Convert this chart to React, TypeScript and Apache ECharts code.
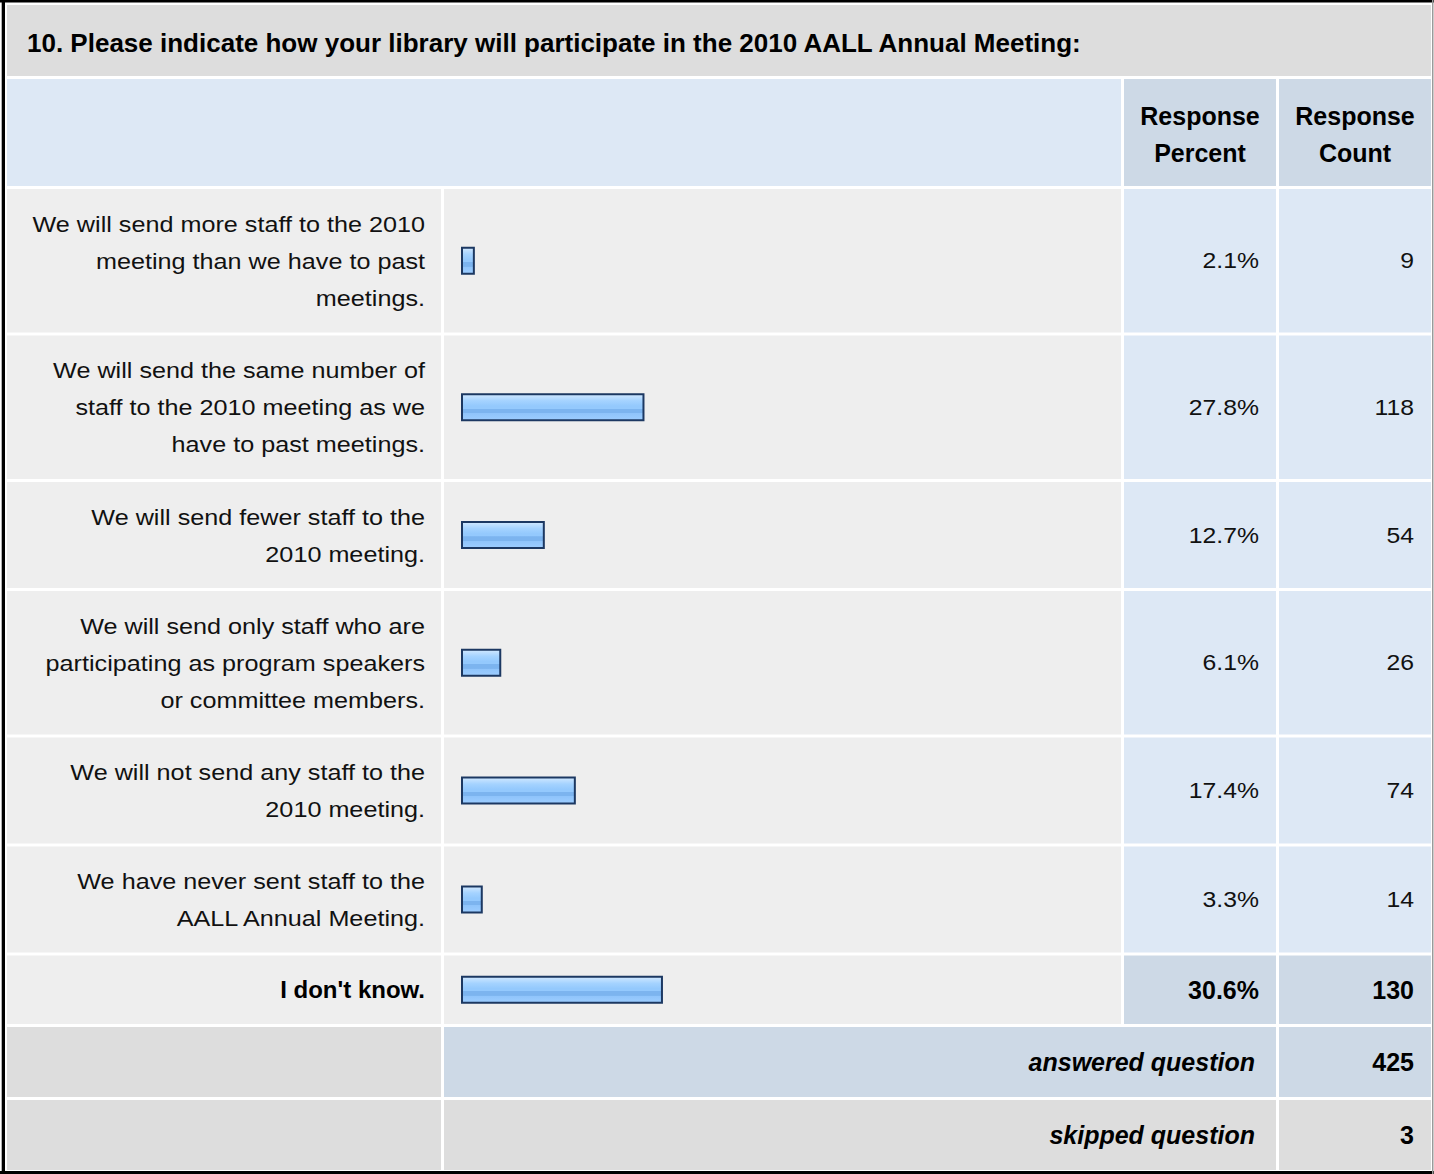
import React, { useEffect, useRef } from "react";
import * as echarts from "echarts";

const questionTitle =
  "10. Please indicate how your library will participate in the 2010 AALL Annual Meeting:";
const headerLabels = ["Response\nPercent", "Response\nCount"];
const categories = [
  "We will send more staff to the 2010\nmeeting than we have to past\nmeetings.",
  "We will send the same number of\nstaff to the 2010 meeting as we\nhave to past meetings.",
  "We will send fewer staff to the\n2010 meeting.",
  "We will send only staff who are\nparticipating as program speakers\nor committee members.",
  "We will not send any staff to the\n2010 meeting.",
  "We have never sent staff to the\nAALL Annual Meeting.",
  "I don't know.",
];
const responsePercent = [2.1, 27.8, 12.7, 6.1, 17.4, 3.3, 30.6];
const responseCount = [9, 118, 54, 26, 74, 14, 130];
const summaryLabels = ["answered question", "skipped question"];
const summaryCounts = [425, 3];

const W = 1434;
const H = 1174;
const FONT = '"Liberation Sans", Arial, Helvetica, sans-serif';
const REG_SIZE = 22.5;
const LABEL_SCALE = 1.12;
const NUM_SCALE = 1.1;
const BOLD_SIZE = 25;

export default function App() {
  const ref = useRef<HTMLDivElement>(null);

  useEffect(() => {
    document.body.style.margin = "0";
    const chart = echarts.init(ref.current!, null, {
      renderer: "svg",
      width: W,
      height: H,
    });

    const colL = [7, 441];
    const colB = [444, 1121];
    const colP = [1124, 1276];
    const colC = [1279, 1431];
    const gap = 3;

    const rows: { top: number; h: number }[] = [];
    let y = 189;
    categories.forEach((c) => {
      const n = c.split("\n").length;
      const h = 31 + 37.5 * n;
      rows.push({ top: y, h });
      y += h + gap;
    });
    const sumRows: { top: number; h: number }[] = [];
    summaryLabels.forEach(() => {
      sumRows.push({ top: y, h: 70 });
      y += 70 + gap;
    });

    const lastIdx = categories.length - 1;
    const g: any[] = [];
    const rect = (x0: number, x1: number, top: number, h: number, fill: string) =>
      g.push({
        type: "rect",
        silent: true,
        shape: { x: x0, y: top, width: x1 - x0, height: h },
        style: { fill },
      });
    const text = (
      t: string,
      x: number,
      yy: number,
      align: string,
      opts: { bold?: boolean; italic?: boolean; size?: number; scaleX?: number } = {}
    ) =>
      g.push({
        type: "text",
        silent: true,
        x,
        y: yy,
        scaleX: opts.scaleX ?? 1,
        style: {
          text: t,
          fill: opts.bold ? "#000000" : "#111111",
          fontFamily: FONT,
          fontSize: opts.size ?? (opts.bold ? BOLD_SIZE : REG_SIZE),
          fontWeight: opts.bold ? "bold" : "normal",
          fontStyle: opts.italic ? "italic" : "normal",
          align,
          verticalAlign: "middle",
          lineHeight: 37,
        },
      });

    // background and frame
    rect(0, W, 0, H, "#ffffff");
    rect(0, W, 0, 2.5, "#000000");
    rect(1.7, 5, 0, H, "#000000");
    rect(0, W, 1171, 3, "#000000");
    rect(1432, 1433.5, 0, H, "#9a9a9a");

    // title
    rect(colL[0], colC[1], 5, 71, "#dddddd");
    text(questionTitle, 27, 43, "left", { bold: true, size: 26 });

    // header
    rect(colL[0], colB[1], 79, 107, "#dde8f5");
    rect(colP[0], colP[1], 79, 107, "#cdd9e6");
    rect(colC[0], colC[1], 79, 107, "#cdd9e6");
    text(headerLabels[0], (colP[0] + colP[1]) / 2, 134, "center", { bold: true });
    text(headerLabels[1], (colC[0] + colC[1]) / 2, 134, "center", { bold: true });

    // answer rows
    rows.forEach((r, i) => {
      const isLast = i === lastIdx;
      const numFill = isLast ? "#cdd9e6" : "#dde8f5";
      rect(colL[0], colL[1], r.top, r.h, "#eeeeee");
      rect(colB[0], colB[1], r.top, r.h, "#eeeeee");
      rect(colP[0], colP[1], r.top, r.h, numFill);
      rect(colC[0], colC[1], r.top, r.h, numFill);
      const cy = r.top + r.h / 2;
      if (isLast) {
        text(categories[i], 425, cy, "right", { bold: true, size: 24 });
        text(responsePercent[i].toFixed(1) + "%", 1259, cy, "right", { bold: true });
        text(String(responseCount[i]), 1414, cy, "right", { bold: true });
      } else {
        text(categories[i], 425, cy, "right", { scaleX: LABEL_SCALE });
        text(responsePercent[i].toFixed(1) + "%", 1259, cy, "right", { scaleX: NUM_SCALE });
        text(String(responseCount[i]), 1414, cy, "right", { scaleX: NUM_SCALE });
      }
    });

    // summary rows
    sumRows.forEach((r, i) => {
      const cy = r.top + r.h / 2;
      const midFill = i === 0 ? "#cdd9e6" : "#dddddd";
      rect(colL[0], colL[1], r.top, r.h, "#dddddd");
      rect(colB[0], colP[1], r.top, r.h, midFill);
      rect(colC[0], colC[1], r.top, r.h, midFill);
      text(summaryLabels[i], 1255, cy, "right", { bold: true, italic: true });
      text(String(summaryCounts[i]), 1414, cy, "right", { bold: true });
    });

    const barFill = {
      type: "linear",
      x: 0,
      y: 0,
      x2: 0,
      y2: 1,
      colorStops: [
        { offset: 0, color: "#d2e9ff" },
        { offset: 0.12, color: "#bcdeff" },
        { offset: 0.25, color: "#a5d3ff" },
        { offset: 0.45, color: "#94c9fd" },
        { offset: 0.55, color: "#94c9fd" },
        { offset: 0.56, color: "#7cb4ef" },
        { offset: 0.72, color: "#7cb4ef" },
        { offset: 0.73, color: "#8fc4fb" },
        { offset: 1, color: "#9dcdff" },
      ],
    };

    const grids = rows.map((r) => ({
      left: 461,
      top: r.top,
      width: 660,
      height: r.h,
      containLabel: false,
    }));
    const xAxes = rows.map((_, i) => ({
      gridIndex: i,
      type: "value",
      min: 0,
      max: 100,
      show: false,
    }));
    const yAxes = rows.map((_, i) => ({
      gridIndex: i,
      type: "category",
      data: [categories[i]],
      show: false,
    }));
    const series = rows.map((_, i) => ({
      type: "bar",
      xAxisIndex: i,
      yAxisIndex: i,
      data: [responsePercent[i]],
      barWidth: 28,
      silent: true,
      itemStyle: {
        color: barFill,
        borderColor: "#1c3862",
        borderWidth: 2,
      },
    }));

    chart.setOption({
      animation: false,
      graphic: { elements: g },
      grid: grids,
      xAxis: xAxes,
      yAxis: yAxes,
      series,
    });

    return () => chart.dispose();
  }, []);

  return <div ref={ref} style={{ width: W, height: H }} />;
}
